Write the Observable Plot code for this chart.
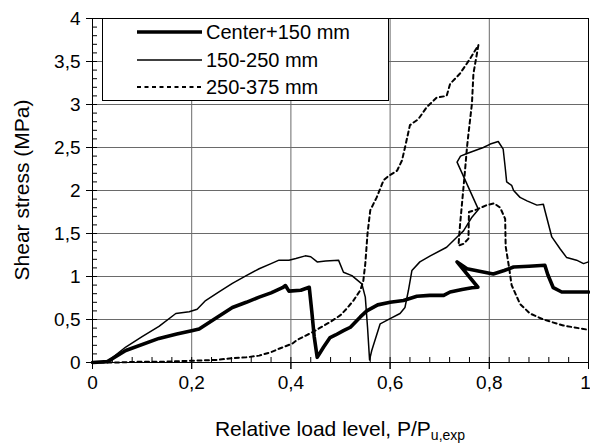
<!DOCTYPE html>
<html><head><meta charset="utf-8">
<script src="https://cdn.jsdelivr.net/npm/d3@7"></script>
<script src="https://cdn.jsdelivr.net/npm/@observablehq/plot@0.6"></script>
<style>
body{margin:0;background:#fff;}
svg{font-family:"Liberation Sans",Arial,sans-serif;}
</style>
</head><body><div id="chart"></div>
<script>
const seriesNames = ["Center+150 mm", "150-250 mm", "250-375 mm"];

const centerX = [0, 0.03, 0.067, 0.134, 0.17, 0.2, 0.215, 0.25, 0.282, 0.31, 0.336, 0.36, 0.383, 0.389, 0.396, 0.42, 0.437, 0.442, 0.447, 0.453, 0.466, 0.479, 0.49, 0.506, 0.52, 0.54, 0.553, 0.575, 0.60, 0.627, 0.654, 0.68, 0.708, 0.721, 0.745, 0.765, 0.777, 0.735, 0.755, 0.78, 0.808, 0.83, 0.849, 0.88, 0.912, 0.918, 0.929, 0.946, 0.97, 1.0];
const centerY = [0, 0.01, 0.14, 0.28, 0.33, 0.37, 0.39, 0.52, 0.64, 0.70, 0.76, 0.81, 0.87, 0.895, 0.83, 0.84, 0.875, 0.6, 0.3, 0.06, 0.18, 0.29, 0.32, 0.37, 0.41, 0.53, 0.60, 0.67, 0.70, 0.72, 0.77, 0.78, 0.78, 0.82, 0.85, 0.87, 0.875, 1.17, 1.09, 1.06, 1.03, 1.07, 1.11, 1.12, 1.13, 1.02, 0.87, 0.82, 0.82, 0.82];

const midX = [0, 0.03, 0.067, 0.10, 0.134, 0.168, 0.195, 0.211, 0.228, 0.255, 0.282, 0.31, 0.336, 0.36, 0.376, 0.396, 0.41, 0.429, 0.44, 0.453, 0.47, 0.496, 0.506, 0.523, 0.543, 0.55, 0.5545, 0.5586, 0.563, 0.58, 0.60, 0.62, 0.63, 0.637, 0.644, 0.66, 0.681, 0.714, 0.735, 0.748, 0.765, 0.778, 0.735, 0.742, 0.755, 0.788, 0.802, 0.818, 0.828, 0.832, 0.835, 0.845, 0.849, 0.862, 0.876, 0.896, 0.909, 0.912, 0.926, 0.943, 0.956, 0.976, 0.99, 1.0];
const midY = [0, 0.01, 0.18, 0.30, 0.42, 0.57, 0.59, 0.62, 0.72, 0.82, 0.92, 1.01, 1.09, 1.15, 1.19, 1.19, 1.21, 1.24, 1.23, 1.17, 1.18, 1.19, 1.05, 1.01, 0.915, 0.76, 0.41, 0.03, 0.14, 0.45, 0.51, 0.57, 0.64, 0.84, 1.07, 1.17, 1.24, 1.34, 1.46, 1.53, 1.69, 1.78, 2.33, 2.40, 2.43, 2.50, 2.54, 2.57, 2.48, 2.27, 2.10, 2.06, 2.0, 1.92, 1.88, 1.83, 1.84, 1.77, 1.46, 1.32, 1.22, 1.19, 1.15, 1.17];

const outerX = [0, 0.05, 0.10, 0.15, 0.2, 0.25, 0.282, 0.31, 0.336, 0.36, 0.376, 0.403, 0.412, 0.446, 0.479, 0.5, 0.513, 0.526, 0.54, 0.546, 0.55, 0.5545, 0.56, 0.573, 0.587, 0.597, 0.614, 0.624, 0.63, 0.64, 0.657, 0.674, 0.694, 0.714, 0.721, 0.741, 0.761, 0.778, 0.775, 0.768, 0.765, 0.758, 0.755, 0.751, 0.745, 0.741, 0.739, 0.738, 0.748, 0.758, 0.759, 0.775, 0.795, 0.810, 0.822, 0.832, 0.833, 0.84, 0.845, 0.862, 0.882, 0.909, 0.949, 1.0];
const outerY = [0, 0.0, 0.01, 0.01, 0.02, 0.03, 0.05, 0.06, 0.08, 0.12, 0.16, 0.22, 0.26, 0.36, 0.47, 0.55, 0.63, 0.72, 0.84, 0.95, 1.15, 1.5, 1.77, 1.92, 2.12, 2.17, 2.23, 2.35, 2.50, 2.76, 2.83, 2.97, 3.08, 3.10, 3.24, 3.36, 3.53, 3.69, 3.59, 3.36, 3.01, 2.66, 2.50, 2.23, 1.85, 1.60, 1.45, 1.36, 1.38, 1.44, 1.75, 1.78, 1.83, 1.85, 1.80, 1.67, 1.35, 1.10, 0.90, 0.68, 0.57, 0.50, 0.43, 0.38];

const xTicks = [0, 0.2, 0.4, 0.6, 0.8, 1];
const yTicks = [0, 0.5, 1, 1.5, 2, 2.5, 3, 3.5, 4];
const xTickLabels = ["0", "0,2", "0,4", "0,6", "0,8", "1"];
const yTickLabels = ["0", "0,5", "1", "1,5", "2", "2,5", "3", "3,5", "4"];
const xMinor = d3.range(0, 1.0001, 0.04);
const yMinor = d3.range(0, 4.0001, 0.1);

const toRows = (xs, ys, name) => xs.map((x, i) => ({series: name, x, y: ys[i]}));
const rowsCenter = toRows(centerX, centerY, seriesNames[0]);
const rowsMid = toRows(midX, midY, seriesNames[1]);
const rowsOuter = toRows(outerX, outerY, seriesNames[2]);

const gridColor = "#6a6a6a";
const styles = [
  {stroke: "black", strokeWidth: 3.6, strokeDasharray: null},
  {stroke: "black", strokeWidth: 1.5, strokeDasharray: null},
  {stroke: "black", strokeWidth: 2, strokeDasharray: "4,3.5"}
];

const xFmt = (d) => xTickLabels[xTicks.indexOf(d)];
const yFmt = (d) => yTickLabels[yTicks.indexOf(d)];

const svg = Plot.plot({
  width: 590, height: 445,
  marginLeft: 92, marginRight: 2, marginTop: 18, marginBottom: 83,
  style: {fontFamily: "Liberation Sans, Arial, sans-serif", fontSize: "19px", color: "black", background: "white"},
  x: {domain: [0, 1], label: null},
  y: {domain: [0, 4], label: null},
  marks: [
    Plot.gridX(xTicks.slice(1, -1), {stroke: gridColor, strokeOpacity: 1, strokeWidth: 1}),
    Plot.gridY(yTicks.slice(1, -1), {stroke: gridColor, strokeOpacity: 1, strokeWidth: 1}),
    Plot.frame({stroke: "black", strokeWidth: 1}),
    Plot.axisX(xMinor, {tickSize: 5, dy: -5, tickFormat: () => "", label: null}),
    Plot.axisY(yMinor, {tickSize: 5, dx: 5, tickFormat: () => "", label: null}),
    Plot.axisX(xTicks, {tickSize: 7, tickFormat: () => "", label: null}),
    Plot.axisX(xTicks.slice(0, -1), {tickSize: 7, tickPadding: 6, tickFormat: xFmt, fontSize: 19, label: null}),
    Plot.axisX(xTicks.slice(-1), {tickSize: 0, tickPadding: 13, dx: -3, tickFormat: xFmt, fontSize: 19, label: null}),
    Plot.axisY(yTicks, {tickSize: 6, tickPadding: 6, tickFormat: yFmt, fontSize: 19, label: null}),
    Plot.line(rowsOuter, {x: "x", y: "y", ...styles[2], strokeLinejoin: "round"}),
    Plot.line(rowsMid, {x: "x", y: "y", ...styles[1], strokeLinejoin: "round"}),
    Plot.line(rowsCenter, {x: "x", y: "y", ...styles[0], strokeLinejoin: "round"})
  ]
});

const s = d3.select(svg);
// legend box
const lg = s.append("g").attr("text-anchor", "start");
lg.append("rect").attr("x", 102.5).attr("y", 18.5).attr("width", 286).attr("height", 82)
  .attr("fill", "white").attr("stroke", "black").attr("stroke-width", 1);
const rowY = [32, 60, 87];
seriesNames.forEach((name, i) => {
  lg.append("line").attr("x1", 137).attr("x2", 202).attr("y1", rowY[i]).attr("y2", rowY[i])
    .attr("stroke", styles[i].stroke).attr("stroke-width", styles[i].strokeWidth)
    .attr("stroke-dasharray", styles[i].strokeDasharray);
  lg.append("text").attr("x", 206).attr("y", rowY[i]).attr("dy", "0.36em")
    .attr("text-anchor", "start").attr("font-size", 20).attr("fill", "black").text(name);
});
// axis titles
const xt = s.append("text").attr("x", 340).attr("y", 436).attr("text-anchor", "middle")
  .attr("font-size", 21).attr("fill", "black");
xt.append("tspan").text("Relative load level, P/P");
xt.append("tspan").attr("font-size", 14).attr("dy", 4).text("u,exp");
s.append("text").attr("transform", "translate(29,190) rotate(-90)").attr("text-anchor", "middle")
  .attr("font-size", 21).attr("fill", "black").text("Shear stress (MPa)");

document.getElementById("chart").appendChild(svg);
</script>
</body></html>
